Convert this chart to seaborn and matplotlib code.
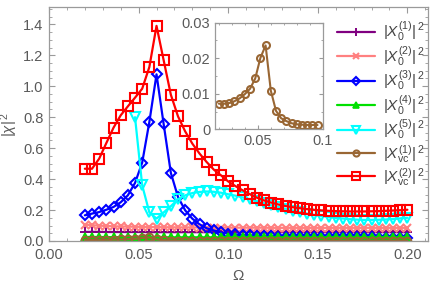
import numpy as np
import matplotlib
matplotlib.use("Agg")
import matplotlib.pyplot as plt
import seaborn as sns
from matplotlib.ticker import MultipleLocator, FixedLocator

# ---------------- data ----------------
omega = [0.020, 0.024, 0.028, 0.032, 0.036, 0.040, 0.044, 0.048, 0.052, 0.056,
         0.060, 0.064, 0.068, 0.072, 0.076, 0.080, 0.084, 0.088, 0.092, 0.096,
         0.100, 0.104, 0.108, 0.112, 0.116, 0.120, 0.124, 0.128, 0.132, 0.136,
         0.140, 0.144, 0.148, 0.152, 0.156, 0.160, 0.164, 0.168, 0.172, 0.176,
         0.180, 0.184, 0.188, 0.192, 0.196, 0.200]

x0_1 = [0.059, 0.059, 0.059, 0.058, 0.058, 0.058, 0.058, 0.058, 0.058, 0.058,
        0.057, 0.057, 0.057, 0.057, 0.057, 0.057, 0.057, 0.057, 0.057, 0.057,
        0.057, 0.057, 0.057, 0.057, 0.057, 0.057, 0.057, 0.057, 0.057, 0.057,
        0.057, 0.057, 0.057, 0.057, 0.057, 0.057, 0.057, 0.057, 0.057, 0.057,
        0.057, 0.057, 0.057, 0.057, 0.057, 0.057]

x0_2 = [0.106, 0.102, 0.099, 0.097, 0.095, 0.094, 0.093, 0.092, 0.091, 0.090,
        0.090, 0.089, 0.089, 0.088, 0.088, 0.088, 0.087, 0.087, 0.087, 0.087,
        0.086, 0.086, 0.086, 0.086, 0.086, 0.086, 0.085, 0.085, 0.085, 0.085,
        0.085, 0.085, 0.085, 0.085, 0.085, 0.085, 0.085, 0.085, 0.085, 0.085,
        0.085, 0.085, 0.085, 0.085, 0.085, 0.085]

x0_3 = [0.166, 0.177, 0.187, 0.202, 0.220, 0.250, 0.295, 0.375, 0.506, 0.769,
        1.077, 0.754, 0.440, 0.284, 0.198, 0.144, 0.108, 0.082, 0.068, 0.055,
        0.048, 0.043, 0.039, 0.036, 0.034, 0.032, 0.030, 0.029, 0.028, 0.027,
        0.026, 0.026, 0.025, 0.025, 0.024, 0.024, 0.024, 0.023, 0.023, 0.023,
        0.023, 0.022, 0.022, 0.022, 0.022, 0.022]

x0_4 = [0.026, 0.026, 0.026, 0.025, 0.025, 0.025, 0.025, 0.025, 0.025, 0.025,
        0.024, 0.024, 0.024, 0.024, 0.024, 0.024, 0.024, 0.024, 0.024, 0.024,
        0.024, 0.024, 0.024, 0.024, 0.024, 0.024, 0.024, 0.024, 0.024, 0.024,
        0.024, 0.024, 0.024, 0.024, 0.024, 0.024, 0.024, 0.024, 0.024, 0.024,
        0.024, 0.024, 0.024, 0.024, 0.024, 0.024]

x0_5 = [np.nan, np.nan, np.nan, np.nan, np.nan, np.nan, np.nan, 0.800, 0.360, 0.185,
        0.145, 0.185, 0.225, 0.270, 0.295, 0.310, 0.317, 0.320, 0.318, 0.312,
        0.302, 0.293, 0.282, 0.270, 0.258, 0.245, 0.232, 0.220, 0.208, 0.197,
        0.187, 0.177, 0.169, 0.162, 0.155, 0.149, 0.145, 0.141, 0.138, 0.136,
        0.136, 0.137, 0.139, 0.142, 0.146, 0.150]

xvc_1 = [0.0072, 0.0072, 0.0074, 0.0079, 0.0087, 0.0099, 0.0114, 0.0143, 0.0201, 0.0236,
         0.0109, 0.0052, 0.0031, 0.0023, 0.0017, 0.0014, 0.0013, 0.0012, 0.0012, 0.0012,
         0.0012, 0.0012, 0.0012, 0.0012, 0.0012, 0.0012, 0.0012, 0.0012, 0.0012, 0.0012,
         0.0012, 0.0012, 0.0012, 0.0012, 0.0012, 0.0012, 0.0012, 0.0012, 0.0012, 0.0012,
         0.0012, 0.0012, 0.0012, 0.0012, 0.0012, 0.0012]

xvc_2 = [0.467, 0.467, 0.532, 0.633, 0.732, 0.812, 0.870, 0.926, 0.984, 1.124,
         1.390, 1.167, 0.945, 0.805, 0.708, 0.629, 0.565, 0.510, 0.461, 0.424,
         0.385, 0.355, 0.328, 0.303, 0.280, 0.262, 0.248, 0.236, 0.226, 0.218,
         0.212, 0.206, 0.201, 0.198, 0.195, 0.193, 0.192, 0.191, 0.191, 0.191,
         0.192, 0.193, 0.195, 0.197, 0.199, 0.202]

inset_n = 20  # the inset shows the first points of |X_vc^(1)|^2

labels = [r"$|X_0^{(1)}|^{\,2}$", r"$|X_0^{(2)}|^{\,2}$", r"$|X_0^{(3)}|^{\,2}$",
          r"$|X_0^{(4)}|^{\,2}$", r"$|X_0^{(5)}|^{\,2}$", r"$|X_{\rm vc}^{(1)}|^{\,2}$",
          r"$|X_{\rm vc}^{(2)}|^{\,2}$"]

x_ticks = [0.00, 0.05, 0.10, 0.15, 0.20]
y_ticks = [0.0, 0.2, 0.4, 0.6, 0.8, 1.0, 1.2, 1.4]
inset_xticks = [0.05, 0.1]
inset_yticks = [0, 0.01, 0.02, 0.03]

# ---------------- style ----------------
sns.set_style("ticks")
plt.rcParams["font.family"] = ["Liberation Sans", "DejaVu Sans"]
plt.rcParams["mathtext.fontset"] = "custom"
plt.rcParams["mathtext.rm"] = "Liberation Sans"
plt.rcParams["mathtext.it"] = "Liberation Sans:italic"
plt.rcParams["mathtext.bf"] = "Liberation Sans:bold"

frame_col = "#9a9a9a"
text_col = "#5a5a5a"

series = [
    (x0_1, "#800080", "+", "#800080", 7, 1.4),
    (x0_2, "#ff8080", "x", "#ff8080", 6, 1.5),
    (x0_3, "#0000ff", "D", "none", 5.5, 1.5),
    (x0_4, "#00e000", "^", "#00e000", 6, 1.2),
    (x0_5, "#00ffff", "v", "none", 7, 1.5),
    (xvc_1, "#996633", "o", "none", 5.5, 1.5),
    (xvc_2, "#ff0000", "s", "none", 6.5, 1.5),
]

fig = plt.figure(figsize=(4.36, 2.86), dpi=100)
ax = fig.add_axes([49 / 436, 1 - 241 / 286, (428 - 49) / 436, (241 - 7.3) / 286])

for (vals, col, mk, fc, ms, mew), lab in zip(series, labels):
    sns.lineplot(x=omega, y=vals, ax=ax, color=col, marker=mk, markersize=ms,
                 markerfacecolor=fc, markeredgecolor=col, markeredgewidth=mew,
                 linewidth=1.6, label=lab, sort=False, estimator=None)

ax.set_xlim(0, 0.2115)
ax.set_ylim(0, 1.51)
ax.xaxis.set_major_locator(FixedLocator(x_ticks))
ax.yaxis.set_major_locator(FixedLocator(y_ticks))
ax.xaxis.set_minor_locator(MultipleLocator(0.01))
ax.yaxis.set_minor_locator(MultipleLocator(0.05))
ax.set_xticklabels([f"{v:.2f}" for v in x_ticks])
ax.set_yticklabels([f"{v:.1f}" for v in y_ticks])
ax.tick_params(which="both", direction="in", top=True, right=True,
               color=frame_col, labelcolor=text_col, labelsize=10.5)
ax.tick_params(axis="x", which="major", pad=5)
ax.tick_params(axis="y", which="major", pad=4)
ax.tick_params(which="major", length=4, width=0.8)
ax.tick_params(which="minor", length=2, width=0.6)
for s in ax.spines.values():
    s.set_color(frame_col)
    s.set_linewidth(0.9)
ax.set_xlabel(r"$\Omega$", color=text_col, fontsize=11, labelpad=5)
ax.set_ylabel(r"$|\chi|^{\,2}$", color=text_col, fontsize=11, labelpad=2)

leg = ax.legend(loc="upper left", bbox_to_anchor=(337 / 436, 1 - 20 / 286),
                bbox_transform=fig.transFigure, frameon=False, fontsize=11,
                handlelength=2.5, handletextpad=0.5, labelspacing=0.08,
                borderpad=0, borderaxespad=0)
for t in leg.get_texts():
    t.set_color("#444444")
for h in leg.get_lines():
    h.set_markersize(h.get_markersize() * 0.8)

# ---------------- inset ----------------
ins = fig.add_axes([215 / 436, 1 - 129.3 / 286, 107.7 / 436, 106.6 / 286])
sns.lineplot(x=omega[:inset_n], y=xvc_1[:inset_n], ax=ins, color="#996633",
             marker="o", markersize=5, markerfacecolor="none",
             markeredgecolor="#996633", markeredgewidth=1.5, linewidth=1.5,
             sort=False, estimator=None)
ins.set_xlim(0.017, 0.1)
ins.set_ylim(0, 0.03)
ins.xaxis.set_major_locator(FixedLocator(inset_xticks))
ins.yaxis.set_major_locator(FixedLocator(inset_yticks))
ins.set_xticklabels(["0.05", "0.1"])
ins.set_yticklabels(["0", "0.01", "0.02", "0.03"])
ins.xaxis.set_minor_locator(MultipleLocator(0.01))
ins.yaxis.set_minor_locator(MultipleLocator(0.005))
ins.tick_params(which="both", direction="in", top=True, right=True,
                color=frame_col, labelcolor=text_col, labelsize=10.5)
ins.tick_params(which="major", length=3, width=0.8)
ins.tick_params(which="minor", length=1.5, width=0.6)
ins.set_facecolor("white")
for s in ins.spines.values():
    s.set_color(frame_col)
    s.set_linewidth(0.9)
ins.set_xlabel("")
ins.set_ylabel("")

fig.savefig("out.png", dpi=100)
